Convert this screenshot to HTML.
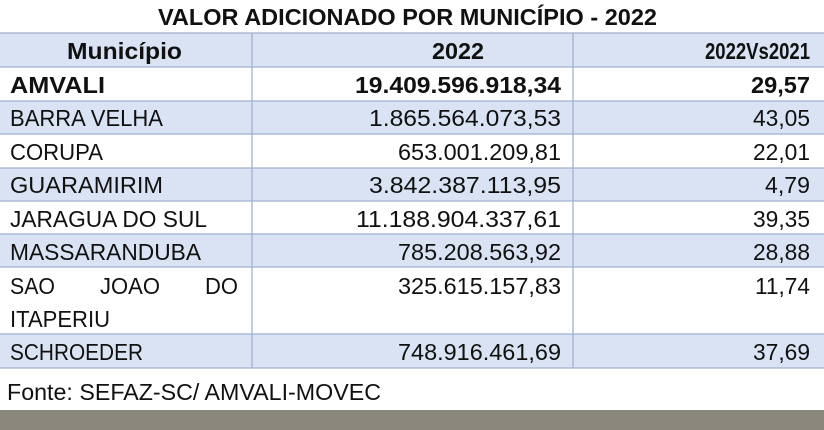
<!DOCTYPE html>
<html><head><meta charset="utf-8"><style>
html,body{margin:0;padding:0;background:#fff;}
svg{display:block;}
text{font-family:"Liberation Sans",sans-serif;font-size:23px;fill:#111;}
.b{font-weight:bold;}
</style></head><body>
<svg width="824" height="430" viewBox="0 0 824 430">
<rect x="0" y="0" width="824" height="430" fill="#fff"/>
<g fill="#dae3f3">
<rect x="0" y="33" width="824" height="34"/>
<rect x="0" y="101" width="824" height="33"/>
<rect x="0" y="168" width="824" height="33"/>
<rect x="0" y="234" width="824" height="33"/>
<rect x="0" y="334" width="824" height="34"/>
</g>
<g stroke="#9fb0cf" stroke-width="1.3">
<line x1="0" y1="33" x2="824" y2="33"/>
<line x1="0" y1="67" x2="824" y2="67"/>
<line x1="0" y1="101" x2="824" y2="101"/>
<line x1="0" y1="134" x2="824" y2="134"/>
<line x1="0" y1="168" x2="824" y2="168"/>
<line x1="0" y1="201" x2="824" y2="201"/>
<line x1="0" y1="234" x2="824" y2="234"/>
<line x1="0" y1="267" x2="824" y2="267"/>
<line x1="0" y1="334" x2="824" y2="334"/>
<line x1="0" y1="368" x2="824" y2="368"/>
<line x1="252" y1="33" x2="252" y2="368"/>
<line x1="573" y1="33" x2="573" y2="368"/>
</g>
<rect x="0" y="410" width="824" height="20" fill="#8a887c"/>

<text class="b" x="158" y="25" textLength="499" lengthAdjust="spacingAndGlyphs">VALOR ADICIONADO POR MUNICÍPIO - 2022</text>
<text class="b" x="67" y="59" textLength="115" lengthAdjust="spacingAndGlyphs">Município</text>
<text class="b" x="432" y="59" textLength="52" lengthAdjust="spacingAndGlyphs">2022</text>
<text class="b" x="705" y="59" textLength="105" lengthAdjust="spacingAndGlyphs">2022Vs2021</text>

<text class="b" x="10" y="93" textLength="95" lengthAdjust="spacingAndGlyphs">AMVALI</text>
<text class="b" x="355" y="93" textLength="206" lengthAdjust="spacingAndGlyphs">19.409.596.918,34</text>
<text class="b" x="751" y="93" textLength="59" lengthAdjust="spacingAndGlyphs">29,57</text>

<text x="10" y="126" textLength="153" lengthAdjust="spacingAndGlyphs">BARRA VELHA</text>
<text x="369" y="126" textLength="192" lengthAdjust="spacingAndGlyphs">1.865.564.073,53</text>
<text x="753" y="126" textLength="57" lengthAdjust="spacingAndGlyphs">43,05</text>

<text x="10" y="160" textLength="93" lengthAdjust="spacingAndGlyphs">CORUPA</text>
<text x="398" y="160" textLength="163" lengthAdjust="spacingAndGlyphs">653.001.209,81</text>
<text x="753" y="160" textLength="57" lengthAdjust="spacingAndGlyphs">22,01</text>

<text x="10" y="193" textLength="153" lengthAdjust="spacingAndGlyphs">GUARAMIRIM</text>
<text x="369" y="193" textLength="192" lengthAdjust="spacingAndGlyphs">3.842.387.113,95</text>
<text x="765" y="193" textLength="45" lengthAdjust="spacingAndGlyphs">4,79</text>

<text x="10" y="227" textLength="197" lengthAdjust="spacingAndGlyphs">JARAGUA DO SUL</text>
<text x="356" y="227" textLength="205" lengthAdjust="spacingAndGlyphs">11.188.904.337,61</text>
<text x="753" y="227" textLength="57" lengthAdjust="spacingAndGlyphs">39,35</text>

<text x="10" y="260" textLength="191" lengthAdjust="spacingAndGlyphs">MASSARANDUBA</text>
<text x="398" y="260" textLength="163" lengthAdjust="spacingAndGlyphs">785.208.563,92</text>
<text x="753" y="260" textLength="57" lengthAdjust="spacingAndGlyphs">28,88</text>

<text x="10" y="294" textLength="45" lengthAdjust="spacingAndGlyphs">SAO</text>
<text x="100" y="294" textLength="60" lengthAdjust="spacingAndGlyphs">JOAO</text>
<text x="205" y="294" textLength="33" lengthAdjust="spacingAndGlyphs">DO</text>
<text x="10" y="327" textLength="100" lengthAdjust="spacingAndGlyphs">ITAPERIU</text>
<text x="398" y="294" textLength="163" lengthAdjust="spacingAndGlyphs">325.615.157,83</text>
<text x="755" y="294" textLength="55" lengthAdjust="spacingAndGlyphs">11,74</text>

<text x="10" y="360" textLength="133" lengthAdjust="spacingAndGlyphs">SCHROEDER</text>
<text x="398" y="360" textLength="163" lengthAdjust="spacingAndGlyphs">748.916.461,69</text>
<text x="753" y="360" textLength="57" lengthAdjust="spacingAndGlyphs">37,69</text>

<text x="7" y="400" textLength="374" lengthAdjust="spacingAndGlyphs">Fonte: SEFAZ-SC/ AMVALI-MOVEC</text>
</svg>
</body></html>
